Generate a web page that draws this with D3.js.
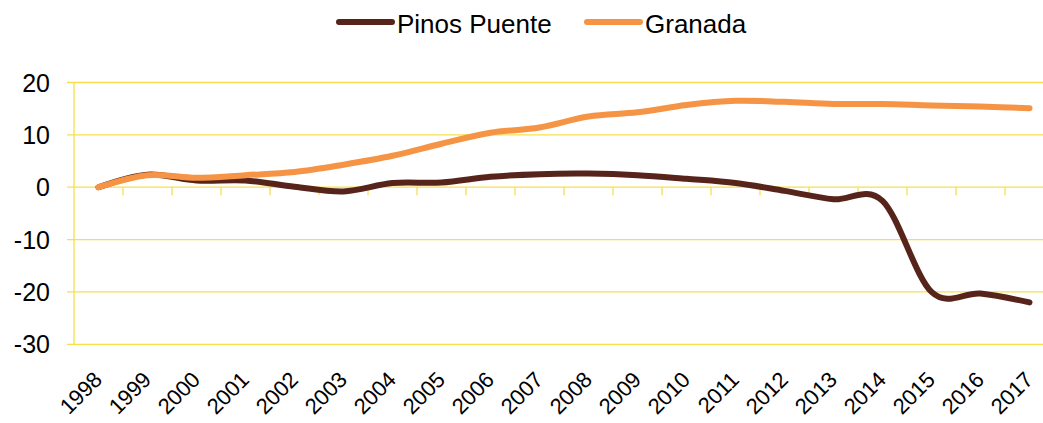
<!DOCTYPE html>
<html>
<head>
<meta charset="utf-8">
<script src="https://cdn.jsdelivr.net/npm/d3@7"></script>
<style>
  html, body { margin: 0; padding: 0; background: #fff; }
  svg { display: block; }
  text { font-family: "Liberation Sans", Arial, Helvetica, sans-serif; fill: #000; }
</style>
</head>
<body>
<svg id="chart" width="1043" height="423"></svg>
<script>
const years = ["1998","1999","2000","2001","2002","2003","2004","2005","2006","2007",
               "2008","2009","2010","2011","2012","2013","2014","2015","2016","2017"];
const pinosPuente = [0, 2.4, 1.3, 1.3, 0.1, -0.8, 0.8, 0.9, 2.0, 2.5,
                     2.6, 2.3, 1.6, 0.8, -0.7, -2.3, -2.6, -20.0, -20.3, -22.0];
const granada = [0, 2.3, 1.8, 2.3, 2.9, 4.3, 6.0, 8.3, 10.4, 11.4,
                 13.5, 14.3, 15.7, 16.5, 16.3, 15.9, 15.9, 15.6, 15.4, 15.1];
const yTicks = [20, 10, 0, -10, -20, -30];
const seriesNames = ["Pinos Puente", "Granada"];
const seriesColors = ["#56241b", "#f59445"];

const svg = d3.select("#chart");
const gridColor = "#f5e04a";

const x = d3.scaleBand().domain(years).range([74, 1054]);
const y = d3.scaleLinear().domain([-30, 20]).range([344.3, 82.5]);

// gridlines
svg.append("g").selectAll("line").data(yTicks).join("line")
  .attr("x1", 67).attr("x2", 1054)
  .attr("y1", d => y(d)).attr("y2", d => y(d))
  .attr("stroke", gridColor).attr("stroke-width", 1.3);

// y axis line
svg.append("line").attr("x1", 74).attr("x2", 74)
  .attr("y1", y(20)).attr("y2", y(-30))
  .attr("stroke", gridColor).attr("stroke-width", 1.3);

// x ticks at band boundaries along zero line
svg.append("g").selectAll("line").data(years.slice(1)).join("line")
  .attr("x1", d => x(d)).attr("x2", d => x(d))
  .attr("y1", y(0)).attr("y2", y(0) + 8)
  .attr("stroke", gridColor).attr("stroke-width", 1.3);

// y labels
svg.append("g").selectAll("text").data(yTicks).join("text")
  .attr("x", 50).attr("y", d => y(d))
  .attr("dy", "0.36em")
  .attr("text-anchor", "end")
  .style("font-size", "25px")
  .text(d => d);

// x labels
svg.append("g").selectAll("text").data(years).join("text")
  .attr("text-anchor", "end")
  .attr("transform", d => `translate(${x(d) + x.bandwidth() / 2 + 5},381) rotate(-45)`)
  .style("font-size", "22px")
  .text(d => d);

// lines
const line = d3.line()
  .x((d, i) => x(years[i]) + x.bandwidth() / 2)
  .y(d => y(d))
  .curve(d3.curveCardinal.tension(0));

[pinosPuente, granada].forEach((s, i) => {
  svg.append("path").datum(s)
    .attr("d", line)
    .attr("fill", "none")
    .attr("stroke", seriesColors[i])
    .attr("stroke-width", 6)
    .attr("stroke-linecap", "round")
    .attr("stroke-linejoin", "round");
});

// legend
const legendX = [339, 587];
seriesNames.forEach((name, i) => {
  svg.append("line")
    .attr("x1", legendX[i]).attr("x2", legendX[i] + 53)
    .attr("y1", 22).attr("y2", 22)
    .attr("stroke", seriesColors[i]).attr("stroke-width", 6)
    .attr("stroke-linecap", "round");
  svg.append("text")
    .attr("x", legendX[i] + 58).attr("y", 33)
    .style("font-size", "26px")
    .text(name);
});
</script>
</body>
</html>
